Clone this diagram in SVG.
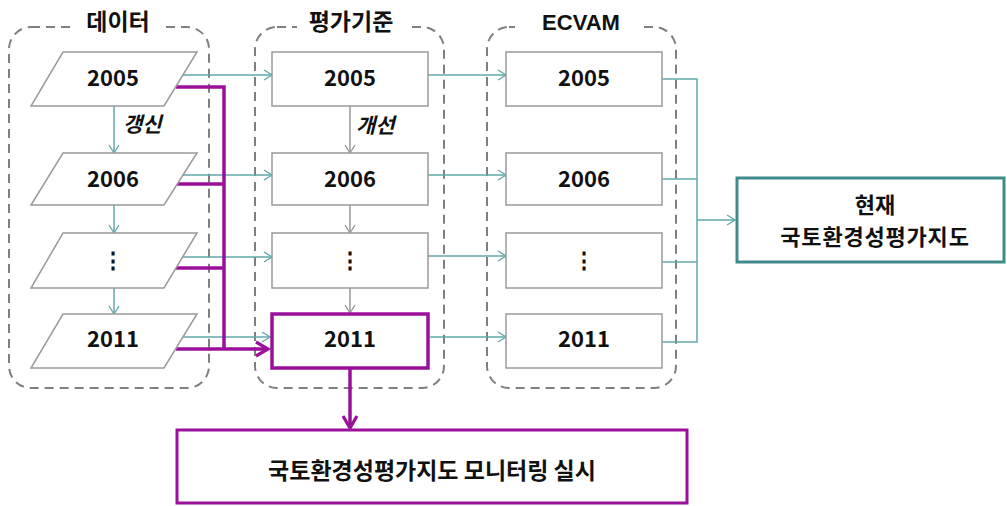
<svg xmlns="http://www.w3.org/2000/svg" width="1007" height="506" viewBox="0 0 1007 506">
<style>
.grp{fill:none;stroke:#7f7f7f;stroke-width:2;stroke-dasharray:9,6}
.mask{fill:#fff;stroke:none}
.ttl{font-family:"Noto Sans CJK KR","Liberation Sans",sans-serif;font-weight:700;font-size:23px;fill:#111;text-anchor:middle}
.box{fill:#fff;stroke:#9a9a9a;stroke-width:1.5}
.num{font-family:"Noto Sans CJK KR","Liberation Sans",sans-serif;font-weight:700;font-size:22px;fill:#111;text-anchor:middle}
.it{font-family:"Noto Sans CJK KR",sans-serif;font-weight:700;font-style:italic;font-size:21px;fill:#111}
.teal{fill:none;stroke:#62a9a9;stroke-width:1.5}
.gray{fill:none;stroke:#999;stroke-width:1.5}
.pur{fill:none;stroke:#9b109b;stroke-width:3.5}
</style>
<defs>
<marker id="ta" markerWidth="12" markerHeight="12" refX="10" refY="6" orient="auto" markerUnits="userSpaceOnUse"><path d="M2,1 L10,6 L2,11" fill="none" stroke="#62a9a9" stroke-width="1.4"/></marker>
<marker id="ga" markerWidth="12" markerHeight="12" refX="10" refY="6" orient="auto" markerUnits="userSpaceOnUse"><path d="M2,1 L10,6 L2,11" fill="none" stroke="#999" stroke-width="1.4"/></marker>
<marker id="pa" markerWidth="18" markerHeight="18" refX="14" refY="9" orient="auto" markerUnits="userSpaceOnUse"><path d="M2,2 L14,9 L2,16" fill="none" stroke="#9b109b" stroke-width="3.2"/></marker>
</defs>

<g id="group-data">
<rect class="grp" x="9" y="27" width="200" height="361" rx="22"/>
<rect class="mask" x="72" y="15" width="94" height="22"/>
<text class="ttl" x="118" y="30">데이터</text>
</g>
<g id="group-criteria">
<rect class="grp" x="255" y="27" width="189" height="361" rx="22"/>
<rect class="mask" x="297" y="15" width="114" height="22"/>
<text class="ttl" x="351" y="30">평가기준</text>
</g>
<g id="group-ecvam">
<rect class="grp" x="487" y="27" width="189" height="361" rx="22"/>
<rect class="mask" x="515" y="15" width="129" height="22"/>
<text class="ttl" x="581" y="30" style="font-family:'Liberation Sans',sans-serif;font-size:22px">ECVAM</text>
</g>

<g id="connectors">
<line class="teal" x1="114" y1="106" x2="114" y2="153" marker-end="url(#ta)"/>
<line class="teal" x1="114" y1="205" x2="114" y2="233" marker-end="url(#ta)"/>
<line class="teal" x1="114" y1="288" x2="114" y2="314" marker-end="url(#ta)"/>
<line class="gray" x1="350" y1="106" x2="350" y2="153" marker-end="url(#ga)"/>
<line class="gray" x1="350" y1="205" x2="350" y2="233" marker-end="url(#ga)"/>
<line class="gray" x1="350" y1="288" x2="350" y2="313" marker-end="url(#ga)"/>
<line class="teal" x1="183" y1="75" x2="272" y2="75" marker-end="url(#ta)"/>
<line class="teal" x1="183" y1="175" x2="272" y2="175" marker-end="url(#ta)"/>
<line class="teal" x1="183" y1="257" x2="272" y2="257" marker-end="url(#ta)"/>
<line class="teal" x1="183" y1="337" x2="270" y2="337" marker-end="url(#ta)"/>
<line class="teal" x1="428" y1="75" x2="506" y2="75" marker-end="url(#ta)"/>
<line class="teal" x1="428" y1="175" x2="506" y2="175" marker-end="url(#ta)"/>
<line class="teal" x1="428" y1="256" x2="506" y2="256" marker-end="url(#ta)"/>
<line class="teal" x1="430" y1="337" x2="506" y2="337" marker-end="url(#ta)"/>
<polyline class="teal" points="662,79 697,79 697,342 662,342"/>
<line class="teal" x1="662" y1="179" x2="697" y2="179"/>
<line class="teal" x1="662" y1="262" x2="697" y2="262"/>
<line class="teal" x1="697" y1="220" x2="735" y2="220" marker-end="url(#ta)"/>
<polyline class="pur" points="176,87 224,87 224,349"/>
<line class="pur" x1="177" y1="184" x2="224" y2="184"/>
<line class="pur" x1="176" y1="268" x2="224" y2="268"/>
<line class="pur" x1="176" y1="349" x2="268" y2="349" marker-end="url(#pa)"/>
<line class="pur" x1="350" y1="369" x2="350" y2="428" marker-end="url(#pa)"/>
</g>

<g id="d2005"><polygon class="box" points="63,52 197,52 164,106 31,106"/><text class="num" x="113" y="86">2005</text></g>
<g id="d2006"><polygon class="box" points="63,153 197,153 164,205 31,205"/><text class="num" x="113" y="187">2006</text></g>
<g id="ddots"><polygon class="box" points="63,233 197,233 164,288 31,288"/><text class="num" x="113" y="268">⋮</text></g>
<g id="d2011"><polygon class="box" points="63,314 197,314 164,368 31,368"/><text class="num" x="113" y="347">2011</text></g>
<text class="it" x="123" y="132">갱신</text>

<g id="c2005"><rect class="box" x="272" y="52" width="156" height="54"/><text class="num" x="350" y="86">2005</text></g>
<g id="c2006"><rect class="box" x="272" y="153" width="156" height="52"/><text class="num" x="350" y="187">2006</text></g>
<g id="cdots"><rect class="box" x="272" y="233" width="156" height="55"/><text class="num" x="350" y="268">⋮</text></g>
<g id="c2011"><rect x="272" y="314" width="156" height="54" fill="#fff" stroke="#9b109b" stroke-width="3.5"/><text class="num" x="350" y="347">2011</text></g>
<text class="it" x="356" y="133">개선</text>

<g id="e2005"><rect class="box" x="506" y="52" width="156" height="54"/><text class="num" x="584" y="86">2005</text></g>
<g id="e2006"><rect class="box" x="506" y="153" width="156" height="52"/><text class="num" x="584" y="187">2006</text></g>
<g id="edots"><rect class="box" x="506" y="233" width="156" height="55"/><text class="num" x="584" y="268">⋮</text></g>
<g id="e2011"><rect class="box" x="506" y="314" width="156" height="54"/><text class="num" x="584" y="347">2011</text></g>

<g id="current-map"><rect x="737" y="178" width="267" height="84" fill="#fff" stroke="#3f8b8b" stroke-width="3"/>
<text class="ttl" x="875" y="213" style="font-size:22px">현재</text>
<text class="ttl" x="875" y="245" style="font-size:22px;letter-spacing:0.8px">국토환경성평가지도</text></g>

<g id="monitoring"><rect x="177" y="430" width="510" height="73" fill="#fff" stroke="#9b109b" stroke-width="3"/>
<text class="ttl" x="432" y="479">국토환경성평가지도 모니터링 실시</text></g>
</svg>
